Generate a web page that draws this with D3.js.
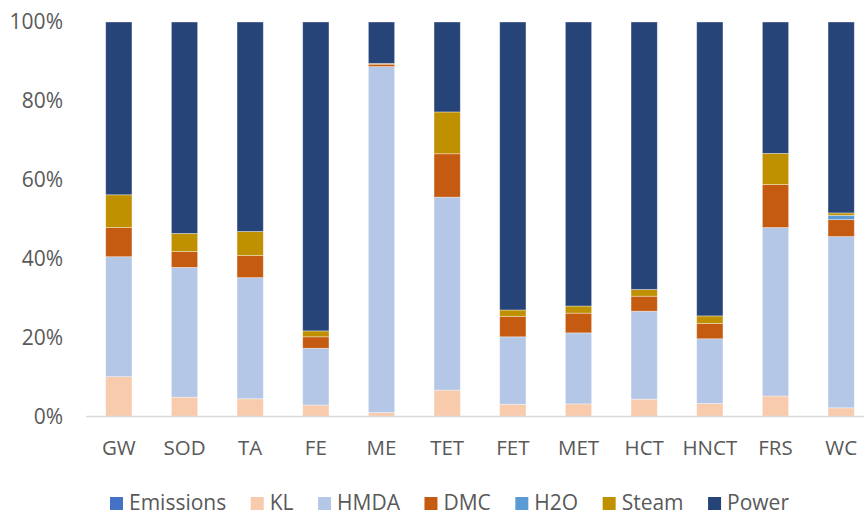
<!DOCTYPE html>
<html>
<head>
<meta charset="utf-8">
<script src="https://cdn.jsdelivr.net/npm/d3@7"></script>
<style>
  html, body { margin: 0; padding: 0; background: #fff; }
  svg { display: block; font-family: "Open Sans", "Noto Sans", sans-serif; }
</style>
</head>
<body>
<svg id="chart" width="864" height="513"></svg>
<script>
// Share of each input in the total, per process route (percent)
const categories = ["GW", "SOD", "TA", "FE", "ME", "TET", "FET", "MET", "HCT", "HNCT", "FRS", "WC"];
const seriesNames = ["Emissions", "KL", "HMDA", "DMC", "H2O", "Steam", "Power"];
const seriesColors = ["#4472C4", "#F8CBAD", "#B4C7E7", "#C55A11", "#5B9BD5", "#BF9000", "#264478"];

const emissions = [0, 0, 0, 0, 0, 0, 0, 0, 0, 0, 0, 0];
const kl        = [10.1, 4.9, 4.5, 2.9, 1.0, 6.7, 3.1, 3.2, 4.4, 3.3, 5.2, 2.2];
const hmda      = [30.4, 32.9, 30.7, 14.4, 87.7, 48.9, 17.1, 18.0, 22.3, 16.4, 42.7, 43.4];
const dmc       = [7.4, 4.0, 5.6, 2.9, 0.6, 11.0, 5.2, 5.0, 3.8, 3.9, 10.9, 4.3];
const h2o       = [0, 0, 0, 0, 0, 0, 0, 0, 0, 0, 0, 1.1];
const steam     = [8.3, 4.6, 6.1, 1.5, 0.2, 10.6, 1.6, 1.8, 1.7, 1.9, 7.9, 0.6];
const power     = [43.8, 53.6, 53.1, 78.3, 10.5, 22.8, 73.0, 72.0, 67.8, 74.5, 33.3, 48.4];

const yTicks = [0, 0.2, 0.4, 0.6, 0.8, 1.0];

const seriesValues = [emissions, kl, hmda, dmc, h2o, steam, power];
const rows = categories.map((c, i) => {
  const row = { category: c };
  seriesNames.forEach((s, j) => { row[s] = seriesValues[j][i]; });
  return row;
});

const stacked = d3.stack().keys(seriesNames).offset(d3.stackOffsetExpand)(rows);

const svg = d3.select("#chart");
const x = d3.scaleBand().domain(categories).range([86, 874]).paddingInner(0.6).paddingOuter(0.3);
const y = d3.scaleLinear().domain([0, 1]).range([416.5, 22]);
const color = d3.scaleOrdinal().domain(seriesNames).range(seriesColors);

// Y axis labels only (no gridlines)
const yAxis = svg.append("g")
  .attr("transform", "translate(63,0)")
  .call(d3.axisLeft(y).tickValues(yTicks).tickFormat(d3.format(".0%")).tickSize(0).tickPadding(0));
yAxis.select(".domain").remove();
yAxis.selectAll("text")
  .attr("fill", "#595959")
  .style("font-size", "21px")
  .style("font-family", "'Open Sans', sans-serif");

// Stacked segments
svg.append("g").selectAll("g")
  .data(stacked)
  .join("g")
  .attr("fill", d => color(d.key))
  .selectAll("rect")
  .data(d => d)
  .join("rect")
  .attr("x", d => x(d.data.category))
  .attr("width", x.bandwidth())
  .attr("y", d => y(d[1]))
  .attr("height", d => Math.max(0, y(d[0]) - y(d[1])))
  .attr("stroke", "rgba(255,255,255,0.45)")
  .attr("stroke-width", 0.8);

// X axis
const xAxis = svg.append("g")
  .attr("transform", "translate(0,416.5)")
  .call(d3.axisBottom(x).tickSize(0).tickPadding(24));
xAxis.select(".domain")
  .attr("stroke", "#d9d9d9")
  .attr("stroke-width", 1.5)
  .attr("d", "M86,0H864");
xAxis.selectAll("text")
  .attr("fill", "#595959")
  .style("font-size", "20.5px")
  .style("font-family", "'Open Sans', sans-serif");

// Legend
const legend = svg.append("g").attr("transform", "translate(0,502.5)");
let lx = 110;
seriesNames.forEach((name, i) => {
  const item = legend.append("g").attr("transform", `translate(${lx},0)`);
  item.append("rect")
    .attr("x", 0).attr("y", -5.5)
    .attr("width", 13).attr("height", 13)
    .attr("fill", seriesColors[i]);
  const t = item.append("text")
    .attr("x", 19).attr("y", 0)
    .attr("dy", "0.35em")
    .attr("fill", "#595959")
    .style("font-size", "21px")
    .text(name);
  lx += 19 + t.node().getComputedTextLength() + 24.5;
});
</script>
</body>
</html>
